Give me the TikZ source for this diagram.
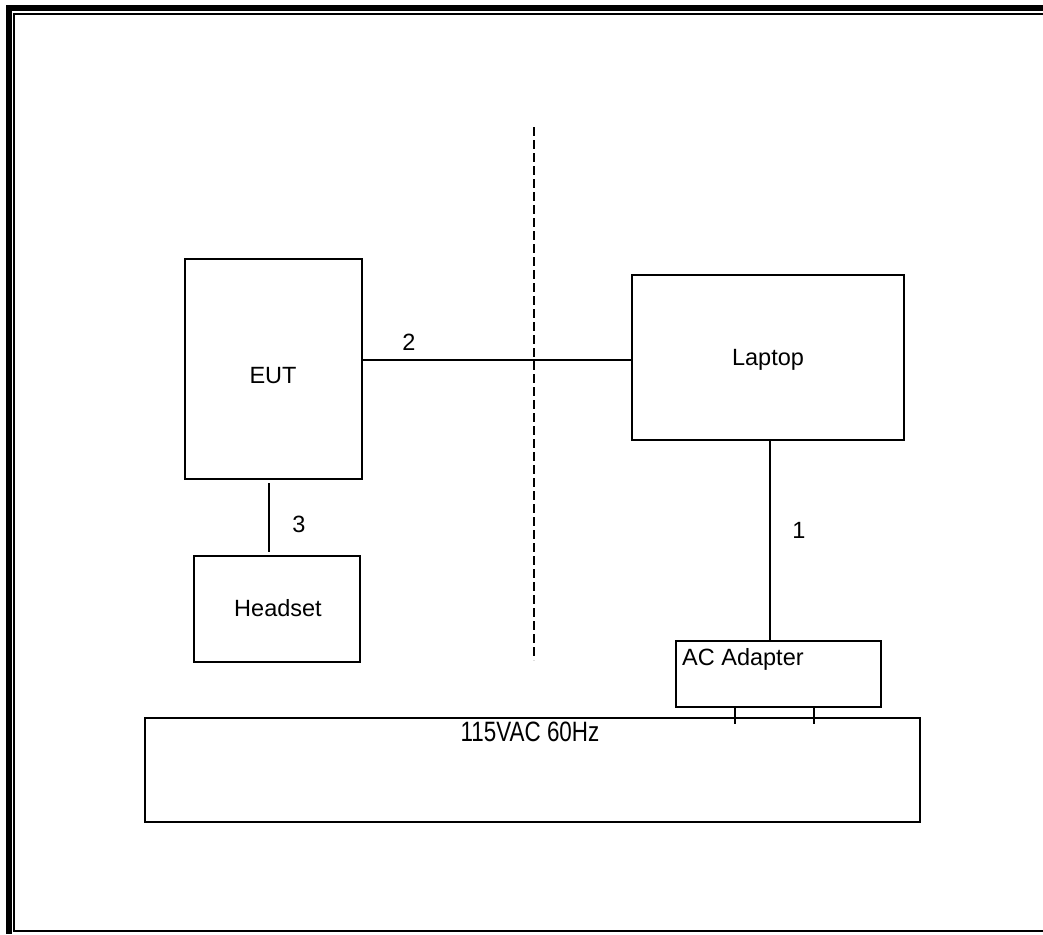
\documentclass[tikz,border=0pt]{standalone}
\usepackage{fontspec}
\setmainfont{Liberation Sans}
\begin{document}
\begin{tikzpicture}[x=1pt,y=-1pt,
  box/.style={draw,line width=2pt,inner sep=0pt,font=\fontsize{23.5}{28}\selectfont},
  wire/.style={line width=1.5pt},
  lbl/.style={inner sep=0pt,font=\fontsize{23.5}{28}\selectfont}]
\useasboundingbox (0,0) rectangle (1043,934);
% page border
\fill (6,5) rectangle (12,934);
\fill (6,5) rectangle (1043,11);
\draw[line width=2pt] (1043,14) -- (14,14) -- (14,931) -- (1043,931);
% boxes
\node[box,minimum width=177pt,minimum height=220pt] (eut) at (273.5,369) {};
\node[lbl] (eutt) at (273,376) {EUT};
\node[box,minimum width=272pt,minimum height=165pt] (lap) at (768,357.5) {};
\node[lbl] (lapt) at (768,360) {Laptop};
\node[box,minimum width=166pt,minimum height=106pt] (head) at (277,609) {};
\node[lbl] (headt) at (278,608) {Headset};
\node[box,minimum width=205pt,minimum height=66pt] (ada) at (778.5,674) {};
\node[lbl,anchor=west] (adat) at (682,659) {AC Adapter};
\node[box,minimum width=775pt,minimum height=104pt] (pwr) at (532.5,769.5) {};
\node[inner sep=0pt,font=\fontsize{28}{32}\selectfont] (pwrt) at (530,732) {\scalebox{0.8}[1]{115VAC 60Hz}};
% connectors
\draw[wire] ([yshift=-2.5pt]lap.west) -- ([yshift=-2.5pt]lap.west -| eut.east);
\draw[wire] ([xshift=-4.5pt,yshift=-3pt]eut.south) -- ([xshift=-4.5pt,yshift=3pt]eut.south |- head.north);
\draw[wire] ([xshift=2pt]lap.south) -- ([xshift=2pt]lap.south |- ada.north);
\draw[wire] ([xshift=-43.5pt]ada.south) -- ++(0,16);
\draw[wire] ([xshift=35.5pt]ada.south) -- ++(0,16);
% labels
\node[lbl] (n2) at (409,342) {2};
\node[lbl] (n3) at (299,524) {3};
\node[lbl] (n1) at (799,530) {1};
% dashed boundary
\coordinate (dtop) at (534,127);
\coordinate (dbot) at (534,660);
\draw[line width=1.8pt,dash pattern=on 9pt off 4pt] (dtop) -- (dbot);
\end{tikzpicture}
\end{document}
